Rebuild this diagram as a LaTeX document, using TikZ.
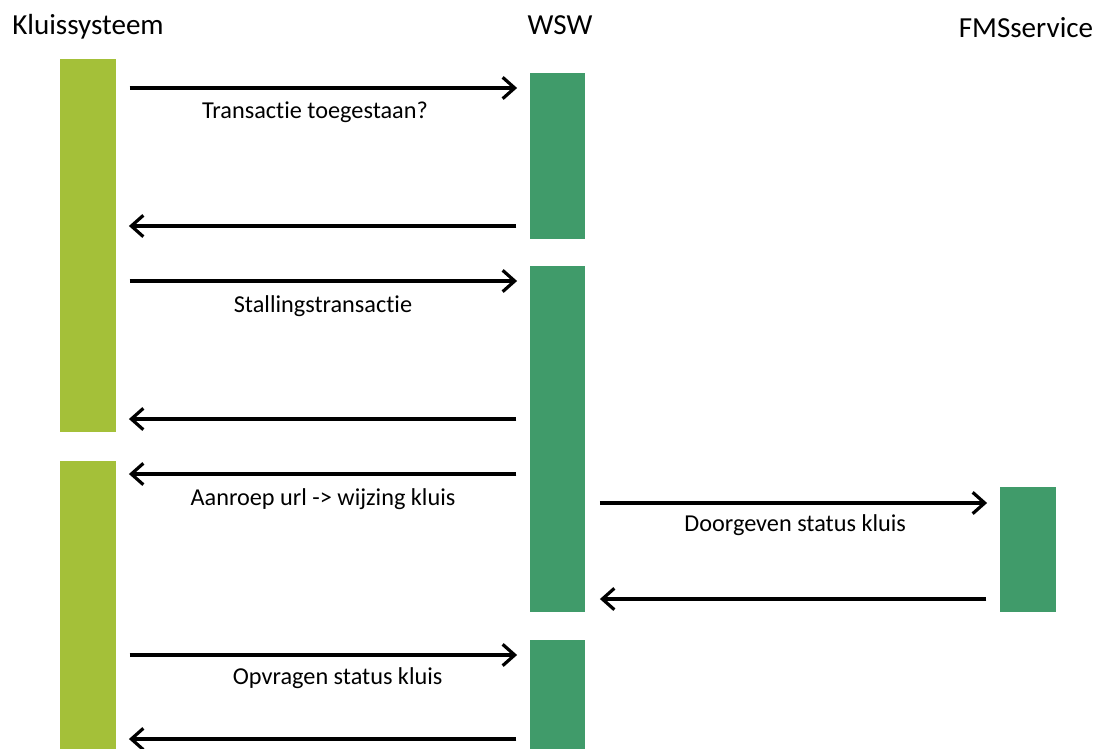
\documentclass[tikz,border=0pt]{standalone}
\usepackage{fontspec}
\setmainfont{Carlito}[Ligatures=NoCommon]
\usetikzlibrary{arrows.meta}

\definecolor{kluisgreen}{RGB}{164,192,57}
\definecolor{wswgreen}{RGB}{64,155,106}

\begin{document}
\begin{tikzpicture}[x=0.75pt, y=-0.75pt,
    kbar/.style={rectangle, fill=kluisgreen, inner sep=0pt, minimum width=42pt},
    wbar/.style={rectangle, fill=wswgreen, inner sep=0pt, minimum width=41.25pt},
    actor/.style={font=\fontsize{21.8}{26}\selectfont, inner sep=0pt},
    note/.style={font=\fontsize{18.2}{22}\selectfont, inner sep=0pt, anchor=north},
    msg/.style={line width=2.4pt, -{Straight Barb[length=9pt, width=16pt]},
        shorten <=10pt, shorten >=9.5pt}]
        \useasboundingbox (0,0) rectangle (1099,749);
        % lanes
        \node[actor, anchor=base west] (kluis) at (12,35) {Kluissysteem};
        \node[actor, anchor=base] (wsw) at (560,35) {WSW};
        \node[actor, anchor=base] (fms) at (1026,38) {FMSservice};
        % activation bars
        \node[kbar, minimum height=279.75pt] (k1) at (88,245.5) {};
        \node[kbar, minimum height=216pt] (k2) at (88,605) {};
        \node[wbar, minimum height=124.5pt] (w1) at (557.5,156) {};
        \node[wbar, minimum height=259.5pt] (w2) at (557.5,439) {};
        \node[wbar, minimum height=81.75pt] (w3) at (557.5,694.5) {};
        \node[wbar, minimum height=93.75pt, minimum width=42pt] (f1) at (1028,549.5) {};
        % message heights
        \coordinate (m1) at (0,88);
        \coordinate (m2) at (0,226);
        \coordinate (m3) at (0,281);
        \coordinate (m4) at (0,419);
        \coordinate (m5) at (0,474);
        \coordinate (m6) at (0,503);
        \coordinate (m7) at (0,599);
        \coordinate (m8) at (0,655);
        \coordinate (m9) at (0,739);
        % messages
        \draw[msg] (k1.east |- m1) -- node[note, yshift=-9.5pt, xshift=-6pt] {Transactie toegestaan?} (w1.west |- m1);
        \draw[msg] (w1.west |- m2) -- (k1.east |- m2);
        \draw[msg] (k1.east |- m3) -- node[note, yshift=-9.5pt] {Stallingstransactie} (w2.west |- m3);
        \draw[msg] (w2.west |- m4) -- (k1.east |- m4);
        \draw[msg] (w2.west |- m5) -- node[note, yshift=-9.5pt] {Aanroep url -> wijzing kluis} (k2.east |- m5);
        \draw[msg, shorten <=11pt] (w2.east |- m6) -- node[note, yshift=-7.5pt, xshift=2pt] {Doorgeven status kluis} (f1.west |- m6);
        \draw[msg, shorten >=11pt] (f1.west |- m7) -- (w2.east |- m7);
        \draw[msg] (k2.east |- m8) -- node[note, yshift=-8.5pt, xshift=11pt] {Opvragen status kluis} (w3.west |- m8);
        \draw[msg] (w3.west |- m9) -- (k2.east |- m9);
    \end{tikzpicture}
\end{document}
